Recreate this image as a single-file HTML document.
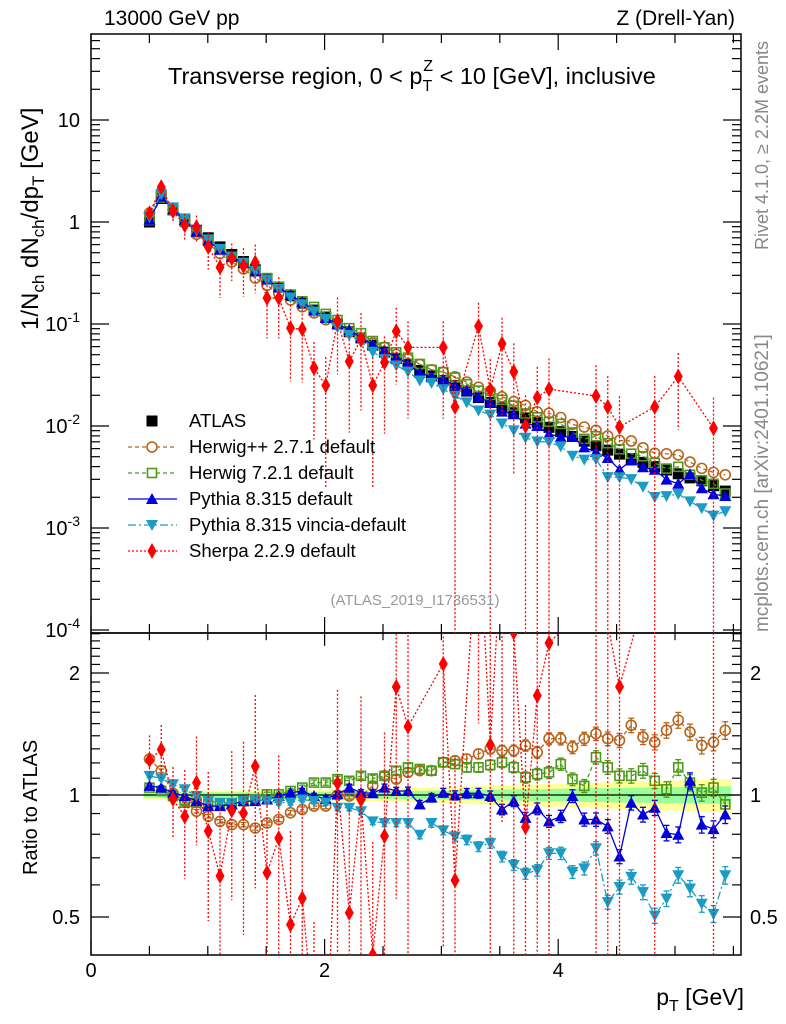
<!DOCTYPE html>
<html><head><meta charset="utf-8"><style>
html,body{margin:0;padding:0;background:#fff;overflow:hidden;width:786px;height:1024px}
svg{display:block;font-family:"Liberation Sans",sans-serif}
</style></head><body>
<svg id="chart" xmlns="http://www.w3.org/2000/svg" width="786" height="1024" viewBox="0 0 786 1024">
<defs>
<clipPath id="cm"><rect x="91" y="34" width="650" height="599"/></clipPath>
<clipPath id="cr"><rect x="91" y="633" width="650" height="322"/></clipPath>
</defs>
<g id="band" clip-path="url(#cr)"></g>
<g id="axes"></g>
<g id="marks"></g>
<text x="104" y="25" font-size="21">13000 GeV pp</text>
<text x="735" y="25" font-size="21" text-anchor="end">Z (Drell-Yan)</text>
<text x="168" y="84" font-size="23.5">Transverse region, 0 &lt; p<tspan font-size="16" dy="7">T</tspan><tspan font-size="16" dx="-9" dy="-20">Z</tspan><tspan dy="13"> &lt; 10 [GeV], inclusive</tspan></text>
<text x="415" y="605" font-size="15" fill="#999" text-anchor="middle">(ATLAS_2019_I1736531)</text>
<text transform="translate(768,250) rotate(-90)" font-size="18" fill="#888">Rivet 4.1.0, ≥ 2.2M events</text>
<text transform="translate(768,632) rotate(-90)" font-size="19" fill="#888">mcplots.cern.ch [arXiv:2401.10621]</text>
<text transform="translate(38,330) rotate(-90)" font-size="24">1/N<tspan font-size="17" dy="6">ch</tspan><tspan dy="-6"> dN</tspan><tspan font-size="17" dy="6">ch</tspan><tspan dy="-6">/dp</tspan><tspan font-size="17" dy="6">T</tspan><tspan dy="-6"> [GeV]</tspan></text>
<text transform="translate(37,875) rotate(-90)" font-size="20">Ratio to ATLAS</text>
<text x="744" y="1005" font-size="23" text-anchor="end">p<tspan font-size="16" dy="6">T</tspan><tspan dy="-6"> [GeV]</tspan></text>
<g id="legend"></g>
</svg>
<script>
const pT=[0.5,0.6,0.7,0.8,0.9,1.0,1.1,1.2,1.3,1.4,1.5,1.6,1.7,1.8,1.9,2.0,2.1,2.2,2.3,2.4,2.5,2.6,2.7,2.8,2.9,3.0,3.1,3.2,3.3,3.4,3.5,3.6,3.7,3.8,3.9,4.0,4.1,4.2,4.3,4.4,4.5,4.6,4.7,4.8,4.9,5.0,5.1,5.2,5.3,5.4];
const atlas=[1.0,1.7,1.31,1.05,0.83,0.70,0.57,0.48,0.41,0.34,0.28,0.23,0.19,0.16,0.137,0.117,0.10,0.084,0.073,0.062,0.053,0.046,0.040,0.035,0.031,0.028,0.025,0.022,0.019,0.017,0.015,0.0135,0.012,0.0108,0.0097,0.0088,0.0079,0.0071,0.0064,0.0058,0.0053,0.0048,0.0044,0.0040,0.0037,0.0034,0.0031,0.0029,0.0026,0.0023];
const statUnc=[0.015,0.015,0.015,0.015,0.015,0.015,0.015,0.015,0.015,0.015,0.016,0.016,0.017,0.017,0.018,0.018,0.019,0.019,0.02,0.02,0.021,0.022,0.023,0.024,0.025,0.026,0.027,0.028,0.029,0.03,0.031,0.032,0.033,0.034,0.035,0.036,0.037,0.038,0.039,0.04,0.041,0.042,0.043,0.044,0.045,0.046,0.047,0.048,0.049,0.05];
const totUnc=[0.025,0.025,0.025,0.025,0.025,0.025,0.026,0.026,0.027,0.027,0.028,0.028,0.029,0.03,0.03,0.031,0.032,0.033,0.034,0.035,0.036,0.038,0.04,0.042,0.044,0.046,0.048,0.05,0.052,0.054,0.056,0.058,0.06,0.062,0.064,0.066,0.068,0.07,0.072,0.074,0.076,0.078,0.08,0.082,0.084,0.086,0.088,0.09,0.092,0.094];
const herwigpp=[1.227,1.148,1.01,0.966,0.912,0.886,0.861,0.845,0.845,0.829,0.853,0.87,0.904,0.921,0.939,0.939,1.0,0.994,0.994,1.053,1.115,1.094,1.137,1.148,1.148,1.204,1.215,1.227,1.263,1.30,1.287,1.287,1.325,1.275,1.377,1.377,1.312,1.377,1.417,1.377,1.364,1.486,1.39,1.35,1.444,1.53,1.43,1.325,1.35,1.444];
const herwig7=[1.043,1.023,0.994,0.957,0.957,0.948,0.948,0.948,0.966,0.975,1.004,1.004,1.023,1.043,1.073,1.073,1.094,1.084,1.115,1.098,1.115,1.148,1.17,1.159,1.148,1.204,1.192,1.17,1.17,1.186,1.204,1.17,1.105,1.126,1.137,1.192,1.094,1.053,1.239,1.17,1.115,1.115,1.148,1.084,1.033,1.17,1.073,1.013,1.043,0.948];
const pythia=[1.053,1.043,1.013,0.994,0.966,0.939,0.939,0.948,0.966,0.966,0.975,0.994,1.013,1.023,0.994,0.979,1.004,1.043,1.013,1.01,1.043,1.023,1.023,0.948,0.985,1.013,0.998,1.01,1.01,0.994,0.921,0.966,0.878,0.925,0.861,0.886,0.994,0.87,0.87,0.837,0.705,0.957,0.895,0.93,0.806,0.798,1.084,0.845,0.824,0.895];
const vincia=[1.115,1.098,1.063,1.033,0.994,0.966,0.957,0.957,0.966,0.975,0.966,0.957,0.957,0.975,0.966,0.957,0.93,0.93,0.912,0.861,0.853,0.853,0.853,0.798,0.853,0.818,0.79,0.775,0.746,0.761,0.705,0.672,0.64,0.652,0.718,0.718,0.646,0.659,0.739,0.544,0.593,0.628,0.576,0.504,0.555,0.634,0.588,0.539,0.509,0.634];
const sherpa=[1.22,2.2,1.28,0.93,0.89,0.57,0.36,0.44,0.37,0.40,0.18,0.18,0.091,0.089,0.037,0.025,0.107,0.043,0.071,0.025,0.042,0.085,0.059,null,null,0.059,0.0154,null,0.095,0.0226,0.064,0.034,0.010,0.019,0.023,null,null,null,0.0197,0.0154,0.0098,null,null,0.0154,null,0.0306,null,null,0.0095,null];
const sherpaErr=[0.15,0.15,0.2,0.3,0.3,0.4,0.5,0.4,0.5,0.5,0.6,0.6,0.7,0.7,0.8,0.9,0.7,0.8,0.8,0.9,0.8,0.7,0.8,1,1,0.8,1,1,0.7,1,0.8,0.9,1,1,1,1,1,1,1,1,1,1,1,1,1,0.7,1,1,1,1];
const mcErr=[0.01,0.01,0.01,0.01,0.01,0.01,0.01,0.01,0.012,0.012,0.012,0.013,0.013,0.014,0.015,0.015,0.016,0.017,0.018,0.019,0.02,0.021,0.022,0.023,0.024,0.025,0.026,0.027,0.028,0.029,0.03,0.031,0.032,0.033,0.034,0.035,0.036,0.037,0.038,0.039,0.04,0.041,0.042,0.043,0.044,0.045,0.046,0.047,0.048,0.05];

const NS='http://www.w3.org/2000/svg';
const X0=91,X1=741,MT=34,MB=633,RB=955;
const xS=p=>149.5+117.5*(p-0.5);
const xA=p=>X0+116.8*p;
const yM=v=>222-102*Math.log10(v);
const yR=r=>795-122*Math.log2(r);
function mk(tag,attrs,parent){const e=document.createElementNS(NS,tag);for(const k in attrs)e.setAttribute(k,attrs[k]);parent.appendChild(e);return e;}
const axes=document.getElementById('axes'),marks=document.getElementById('marks'),band=document.getElementById('band'),legend=document.getElementById('legend');

function bandPoly(unc,fill,name){
  let top=[],bot=[];
  pT.forEach((p,i)=>{const a=xS(p-0.05),b=xS(p+0.05);top.push(a+','+yR(1+unc[i]),b+','+yR(1+unc[i]));bot.unshift(b+','+yR(1-unc[i]),a+','+yR(1-unc[i]));});
  const e=mk('polygon',{points:top.concat(bot).join(' '),fill:fill},band);
  
  
}
bandPoly(totUnc,'#ffff99','total-uncertainty-band');
bandPoly(statUnc,'#99ff99','stat-uncertainty-band');

let f1=mk('rect',{x:X0,y:MT,width:X1-X0,height:MB-MT,fill:'none',stroke:'#000','stroke-width':1.5},axes);

let f2=mk('rect',{x:X0,y:MB,width:X1-X0,height:RB-MB,fill:'none',stroke:'#000','stroke-width':1.5},axes);

let l1=mk('line',{x1:X0,x2:X1,y1:yR(1),y2:yR(1),stroke:'#000','stroke-width':1.2},axes);


const xMajor=[0,2,4];
for(let p=0;p<=5.5;p+=0.5){
  const x=xA(p),maj=Math.abs(p-Math.round(p/2)*2)<1e-6,L=maj?16:9;
  [[MT,MT+L],[MB,MB-L],[MB,MB+L*0.8],[RB,RB-L]].forEach(([a,b])=>mk('line',{x1:x,x2:x,y1:a,y2:b,stroke:'#000','stroke-width':1.2},axes));
}
xMajor.forEach(p=>{const t=mk('text',{x:xA(p),y:977,'font-size':20,'text-anchor':'middle'},axes);t.textContent=p;
});

const yDecades=[-4,-3,-2,-1,0,1];
const yLabels=['10\u207B\u2074','10\u207B\u00B3','10\u207B\u00B2','10\u207B\u00B9','1','10'];
for(let d=-5;d<=1;d++){for(let m=1;m<=9;m++){const v=m*Math.pow(10,d),y=yM(v);if(y<MT||y>MB)continue;const L=m==1?18:9;
  mk('line',{x1:X0,x2:X0+L,y1:y,y2:y,stroke:'#000','stroke-width':1.2},axes);mk('line',{x1:X1,x2:X1-L,y1:y,y2:y,stroke:'#000','stroke-width':1.2},axes);}}
yDecades.forEach((d,i)=>{const y=yM(Math.pow(10,d));let t;
  t=mk('text',{x:80,y:y+7,'font-size':20,'text-anchor':'end'},axes);
  if(d===0||d===1){t.textContent=yLabels[i];}
  else{t.innerHTML='10<tspan font-size="14" dy="-9">'+d+'</tspan>';}
  });

const rTicks=[0.4,0.5,0.6,0.7,0.8,0.9,1,1.1,1.2,1.3,1.4,1.5,1.6,1.7,1.8,1.9,2,2.1,2.2,2.3,2.4,2.5];
const rLabels=[[2,'2'],[1,'1'],[0.5,'0.5']];
rTicks.forEach(r=>{const y=yR(r);if(y<MB||y>RB)return;const L=(r==1||r==2||r==0.5)?18:9;
  mk('line',{x1:X0,x2:X0+L,y1:y,y2:y,stroke:'#000','stroke-width':1.2},axes);mk('line',{x1:X1,x2:X1-L,y1:y,y2:y,stroke:'#000','stroke-width':1.2},axes);});
rLabels.forEach(([r,s])=>{[[80,'end'],[750,'start']].forEach(([x,a])=>{const t=mk('text',{x:x,y:yR(r)+7,'font-size':20,'text-anchor':a},axes);t.textContent=s;
  });});

function marker(type,x,y,col,par){
  const s=5.5;
  if(type==='sq')return mk('rect',{x:x-s,y:y-s,width:2*s,height:2*s,fill:'#000'},par);
  if(type==='osq')return mk('rect',{x:x-s+1,y:y-s+1,width:2*s-2,height:2*s-2,fill:'none',stroke:col,'stroke-width':1.6},par);
  if(type==='oc')return mk('circle',{cx:x,cy:y,r:s-0.5,fill:'none',stroke:col,'stroke-width':1.6},par);
  if(type==='tu')return mk('polygon',{points:`${x},${y-6} ${x+6},${y+5} ${x-6},${y+5}`,fill:col},par);
  if(type==='td')return mk('polygon',{points:`${x},${y+6} ${x+6},${y-5} ${x-6},${y-5}`,fill:col},par);
  if(type==='di')return mk('polygon',{points:`${x},${y-8} ${x+4.5},${y} ${x},${y+8} ${x-4.5},${y}`,fill:col},par);
}
const series=[
 {name:'herwigpp',r:herwigpp,col:'#b5651d',m:'oc',dash:'4,3',label:'Herwig++ 2.7.1 default'},
 {name:'herwig7',r:herwig7,col:'#4c9a1a',m:'osq',dash:'4,3',label:'Herwig 7.2.1 default'},
 {name:'pythia',r:pythia,col:'#0000dd',m:'tu',dash:'',label:'Pythia 8.315 default'},
 {name:'vincia',r:vincia,col:'#1a9cc4',m:'td',dash:'8,3,2,3',label:'Pythia 8.315 vincia-default'}
];
function drawMC(s){
  const gm=mk('g',{'clip-path':'url(#cm)'},marks);
  const gr=mk('g',{'clip-path':'url(#cr)'},marks);
  const pm=pT.map((p,i)=>xS(p)+','+yM(atlas[i]*s.r[i])).join(' ');
  const pr=pT.map((p,i)=>xS(p)+','+yR(s.r[i])).join(' ');
  const a={fill:'none',stroke:s.col,'stroke-width':1.3};if(s.dash)a['stroke-dasharray']=s.dash;
  mk('polyline',Object.assign({points:pm},a),gm);mk('polyline',Object.assign({points:pr},a),gr);
  pT.forEach((p,i)=>{const x=xS(p);
    const y1=yR(s.r[i]*(1+mcErr[i])),y2=yR(s.r[i]*(1-mcErr[i]));
    mk('line',{x1:x,x2:x,y1:y1,y2:y2,stroke:s.col,'stroke-width':1.3},gr);
    mk('line',{x1:x-3,x2:x+3,y1:y1,y2:y1,stroke:s.col,'stroke-width':1.3},gr);mk('line',{x1:x-3,x2:x+3,y1:y2,y2:y2,stroke:s.col,'stroke-width':1.3},gr);
    const e1=marker(s.m,x,yM(atlas[i]*s.r[i]),s.col,gm);
    const e2=marker(s.m,x,yR(s.r[i]),s.col,gr);
  });
}
const ga=mk('g',{'clip-path':'url(#cm)'},marks);
pT.forEach((p,i)=>{const e=marker('sq',xS(p),yM(atlas[i]),'#000',ga);});
series.forEach(drawMC);
(function(){
  const col='#ff0000';
  const gm=mk('g',{'clip-path':'url(#cm)'},marks);
  const gr=mk('g',{'clip-path':'url(#cr)'},marks);
  const ptsM=[],ptsR=[];
  pT.forEach((p,i)=>{if(sherpa[i]==null)return;const x=xS(p),v=sherpa[i],r=v/atlas[i],e=sherpaErr[i];
    ptsM.push(x+','+yM(v));ptsR.push(x+','+yR(r));
    const lo=Math.max(1-e,1e-4);
    mk('line',{x1:x,x2:x,y1:yM(v*(1+e)),y2:yM(v*lo),stroke:col,'stroke-width':1.3,'stroke-dasharray':'2,2'},gm);
    mk('line',{x1:x,x2:x,y1:yR(r*(1+e)),y2:yR(r*lo),stroke:col,'stroke-width':1.3,'stroke-dasharray':'2,2'},gr);
  });
  mk('polyline',{points:ptsM.join(' '),fill:'none',stroke:col,'stroke-width':1.3,'stroke-dasharray':'2,2'},gm);
  mk('polyline',{points:ptsR.join(' '),fill:'none',stroke:col,'stroke-width':1.3,'stroke-dasharray':'2,2'},gr);
  pT.forEach((p,i)=>{if(sherpa[i]==null)return;const x=xS(p);
    const e1=marker('di',x,yM(sherpa[i]),col,gm);
    const e2=marker('di',x,yR(sherpa[i]/atlas[i]),col,gr);});
})();
const legItems=[{m:'sq',col:'#000',dash:null,label:'ATLAS'}].concat(series.map(s=>({m:s.m,col:s.col,dash:s.dash,label:s.label}))).concat([{m:'di',col:'#ff0000',dash:'2,2',label:'Sherpa 2.2.9 default'}]);
legItems.forEach((it,i)=>{const y=421+26*i;
  const g=mk('g',{},legend);
  if(it.dash!==null){const a={x1:128,x2:177,y1:y,y2:y,stroke:it.col,'stroke-width':1.3};if(it.dash)a['stroke-dasharray']=it.dash;mk('line',a,g);}
  if(it.m==='oc'||it.m==='osq')mk('rect',{x:147,y:y-5,width:10,height:10,fill:'#fff'},g);
  marker(it.m,152,y,it.col,g);
  const t=mk('text',{x:189,y:y+6,'font-size':18.5},g);t.textContent=it.label;});
</script>
</body></html>
